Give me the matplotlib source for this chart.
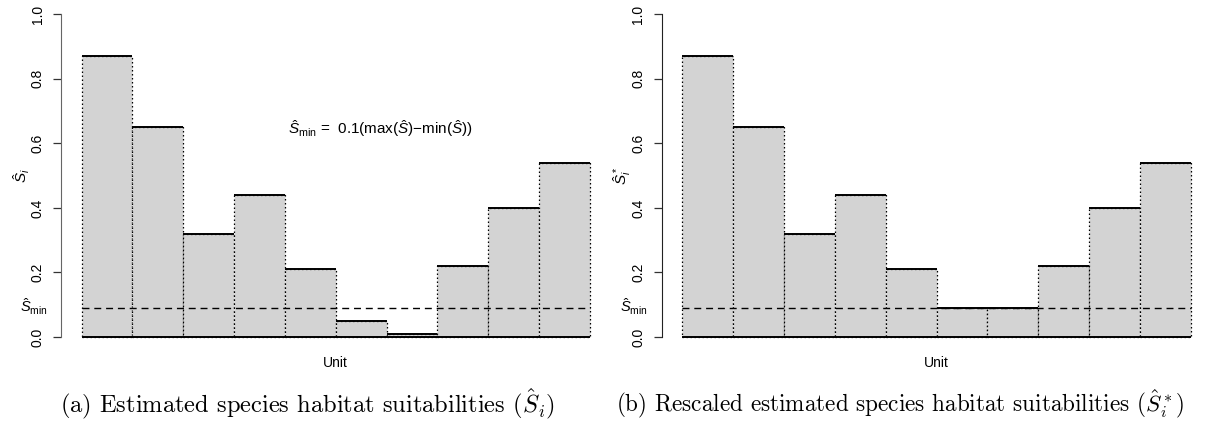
import numpy as np
import matplotlib
matplotlib.use('Agg')
import matplotlib.pyplot as plt

plt.rcParams['font.family'] = ['Liberation Sans', 'DejaVu Sans']
plt.rcParams['mathtext.fontset'] = 'custom'
plt.rcParams['mathtext.rm'] = 'Liberation Sans'
plt.rcParams['mathtext.it'] = 'Liberation Sans:italic'
plt.rcParams['mathtext.bf'] = 'Liberation Sans:bold'

# habitat suitabilities per unit
s_hat = [0.87, 0.65, 0.32, 0.44, 0.21, 0.05, 0.01, 0.22, 0.40, 0.54]
s_min = 0.09
s_star = [max(v, s_min) for v in s_hat]
yticks = [0.0, 0.2, 0.4, 0.6, 0.8, 1.0]

panels = [
    (s_hat, r'$\hat{S}_i$',
     r'(a) Estimated species habitat suitabilities ($\hat{S}_i$)', True, '#666666'),
    (s_star, r'$\hat{S}_i^*$',
     r'(b) Rescaled estimated species habitat suitabilities ($\hat{S}_i^*$)', False, '#222222'),
]

W, H = 1226, 424
fig = plt.figure(figsize=(W/100, H/100), dpi=100)
lefts = [61.2, 662.0]
# caption centre x and width in pixels
cap_pos = [(307, 495), (900, 569)]

captions = []
for (vals, ylab, caption, show_formula, spine_col), left in zip(panels, lefts):
    ax = fig.add_axes([left/W, 74/H, 549/W, 348.8/H])
    n = len(vals)
    x = np.arange(n) + 0.5
    ax.bar(x, vals, width=1.0, color='#D3D3D3', edgecolor='black',
           linestyle=(0, (1.2, 2.0)), linewidth=0.9)
    # solid tops and base
    ax.hlines(vals, x - 0.5, x + 0.5, colors='black', linewidth=1.4)
    ax.hlines(0, 0, n, colors='black', linewidth=1.4)
    ax.hlines(s_min, 0, n, colors='black', linestyles=(0, (5, 3.5)),
              linewidth=1.0, zorder=5)

    ax.set_xlim(-0.04*n, 1.04*n)
    ax.set_ylim(-0.04, 1.04)
    for side in ['top', 'right', 'bottom']:
        ax.spines[side].set_visible(False)
    ax.spines['left'].set_bounds(0, 1)
    ax.spines['left'].set_color(spine_col)
    ax.set_xticks([])
    ax.set_yticks(yticks)
    ax.set_yticklabels(['%.1f' % t for t in yticks], rotation=90,
                       va='center', fontsize=10)
    ax.tick_params(axis='y', length=6, width=0.9, pad=6, color='#333333')
    ax.set_ylabel(ylab, fontsize=11, labelpad=-1)
    ax.set_xlabel('Unit', fontsize=10, labelpad=4.5)

    ax.annotate(r'$\hat{S}_{\mathrm{min}}$', xy=(0, s_min),
                xycoords=('axes fraction', 'data'), xytext=(-10, 1),
                textcoords='offset points', ha='right', va='center',
                fontsize=10.5)
    if show_formula:
        ax.text(0.582, 0.636,
                r'$\hat{S}_{\mathrm{min}}$ =  0.1(max($\hat{S}$)$-$min($\hat{S}$))',
                transform=ax.transAxes, ha='center', va='center', fontsize=11)

    captions.append(fig.text(0.5, 1 - 404/H, caption, ha='center',
                             va='center', fontsize=15, family='cmr10',
                             math_fontfamily='cm'))

# fit caption widths to the reference
renderer = fig.canvas.get_renderer()
for t, (cx, cw) in zip(captions, cap_pos):
    w = t.get_window_extent(renderer).width
    t.set_fontsize(15 * cw / w)
    t.set_x(cx / W)

fig.savefig('out.png', dpi=100)
